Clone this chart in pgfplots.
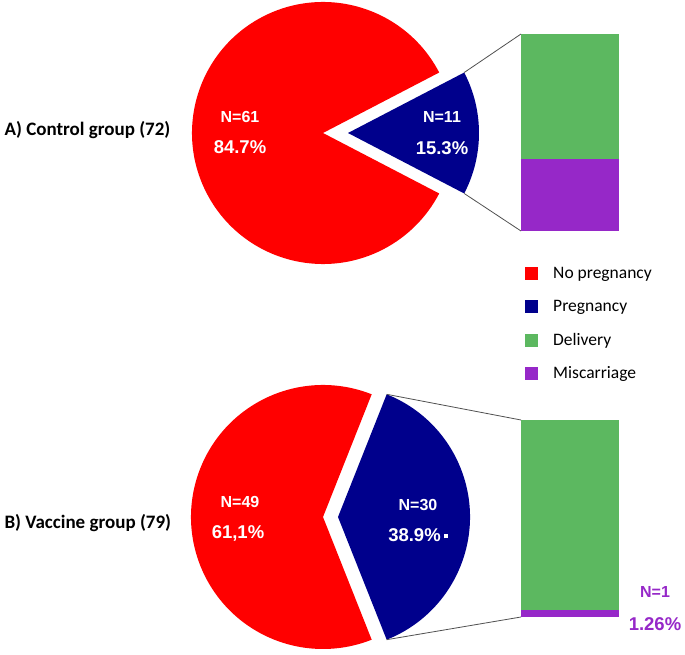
\documentclass[border=0pt]{standalone}
\usepackage{pgfplots}
\pgfplotsset{compat=1.18}
\usepackage{fontspec}
\setmainfont{Carlito}
\newfontfamily\arial{Liberation Sans}

\definecolor{nopreg}{RGB}{255,0,0}
\definecolor{preg}{RGB}{0,0,140}
\definecolor{deliv}{RGB}{92,184,96}
\definecolor{misc}{RGB}{150,40,200}
\definecolor{conn}{RGB}{80,80,80}

% counts per group (no pregnancy / pregnancy)
\def\ctrlNo{61}\def\ctrlYes{11}
\def\vaccNo{49}\def\vaccYes{30}
% half-angle of the pregnancy slice
\pgfmathsetmacro{\ha}{180*\ctrlYes/(\ctrlNo+\ctrlYes)}
\pgfmathsetmacro{\hb}{180*\vaccYes/(\vaccNo+\vaccYes)}

\newcommand{\nlab}{\arial\bfseries\fontsize{16}{18}\selectfont}
\newcommand{\plab}{\arial\bfseries\fontsize{18.5}{21}\selectfont}

\begin{document}
\begin{tikzpicture}
% canvas axis, 1 unit = 1pt, y measured from the bottom
\begin{axis}[
    at={(0,0)}, anchor=south west,
    scale only axis, width=685pt, height=654pt,
    xmin=0, xmax=685, ymin=0, ymax=654,
    hide axis, clip=false,
    legend style={at={(axis cs:525,387)}, anchor=north west,
        draw=none, fill=none, inner sep=0pt,
        nodes={inner sep=0pt, anchor=west},
        column sep=15pt, row sep=20pt,
        font=\fontsize{17.5}{20}\selectfont},
    legend image code/.code={\fill[#1] (0pt,-6.5pt) rectangle (13pt,6.5pt);},
]
\addlegendimage{fill=nopreg, draw=none}
\addlegendentry{No pregnancy}
\addlegendimage{fill=preg, draw=none}
\addlegendentry{Pregnancy}
\addlegendimage{fill=deliv, draw=none}
\addlegendentry{Delivery}
\addlegendimage{fill=misc, draw=none}
\addlegendentry{Miscarriage}

% A) control group pie
\fill[nopreg] (axis cs:323,521) -- ++(\ha:131pt)
    arc[start angle=\ha, end angle=360-\ha, radius=131pt] -- cycle;
\fill[preg] (axis cs:348,521) -- ++(-\ha:131pt)
    arc[start angle=-\ha, end angle=\ha, radius=131pt] -- cycle;
\draw[conn, line width=0.8pt] (axis cs:348,521) ++(\ha:131pt) -- (axis cs:521,620);
\draw[conn, line width=0.8pt] (axis cs:348,521) ++(-\ha:131pt) -- (axis cs:521,423);

% B) vaccine group pie
\fill[nopreg] (axis cs:323,137) -- ++(\hb:132pt)
    arc[start angle=\hb, end angle=360-\hb, radius=132pt] -- cycle;
\fill[preg] (axis cs:338,137) -- ++(-\hb:132pt)
    arc[start angle=-\hb, end angle=\hb, radius=132pt] -- cycle;
\draw[conn, line width=0.8pt] (axis cs:338,137) ++(\hb:132pt) -- (axis cs:521,234);
\draw[conn, line width=0.8pt] (axis cs:338,137) ++(-\hb:132pt) -- (axis cs:521,37);

% group labels
\node[anchor=west, font=\bfseries\fontsize{19}{22}\selectfont] at (axis cs:1,524) {A) Control group (72)};
\node[anchor=west, font=\bfseries\fontsize{19}{22}\selectfont] at (axis cs:1,131) {B) Vaccine group (79)};

% slice labels
\node[white, font=\nlab] at (axis cs:240,537) {N=61};
\node[white, font=\plab] at (axis cs:240,507) {84.7\%};
\node[white, font=\nlab] at (axis cs:442,537) {N=11};
\node[white, font=\plab] at (axis cs:442,506) {15.3\%};
\node[white, font=\nlab] at (axis cs:240,152) {N=49};
\node[white, font=\plab] at (axis cs:238,121) {61,1\%};
\node[white, font=\nlab] at (axis cs:418,149) {N=30};
\node[white, font=\plab] at (axis cs:418,119) {38.9\%\hspace{3pt}\raisebox{3pt}{\rule{4pt}{4pt}}};

% bar labels
\node[white, font=\nlab] at (axis cs:585,567) {N=4};
\node[white, font=\plab] at (axis cs:589,536) {5,51\%};
\node[white, font=\nlab] at (axis cs:585,472) {N=7};
\node[white, font=\plab] at (axis cs:588,442) {9,7\%};
\node[white, font=\nlab] at (axis cs:578,162) {N=29};
\node[white, font=\plab] at (axis cs:578,131) {36.7\%};
\node[misc, font=\nlab] at (axis cs:655,62) {N=1};
\node[misc, font=\plab] at (axis cs:655,30) {1.26\%};
\end{axis}

% A) breakdown of pregnancies (segment heights as drawn)
\begin{axis}[
    at={(521pt,423pt)}, anchor=south west,
    scale only axis, width=98pt, height=197pt,
    xmin=-0.5, xmax=0.5, ymin=0, ymax=11,
    hide axis, ybar stacked, bar width=98pt,
]
\addplot[fill=misc, draw=none] coordinates {(0,4)};
\addplot[fill=deliv, draw=none] coordinates {(0,7)};
\end{axis}

% B) breakdown of pregnancies
\begin{axis}[
    at={(521pt,37pt)}, anchor=south west,
    scale only axis, width=98pt, height=197pt,
    xmin=-0.5, xmax=0.5, ymin=0, ymax=30,
    hide axis, ybar stacked, bar width=98pt,
]
\addplot[fill=misc, draw=none] coordinates {(0,1)};
\addplot[fill=deliv, draw=none] coordinates {(0,29)};
\end{axis}
\pgfresetboundingbox
\path (0,0) rectangle (685pt,654pt);
\end{tikzpicture}
\end{document}
